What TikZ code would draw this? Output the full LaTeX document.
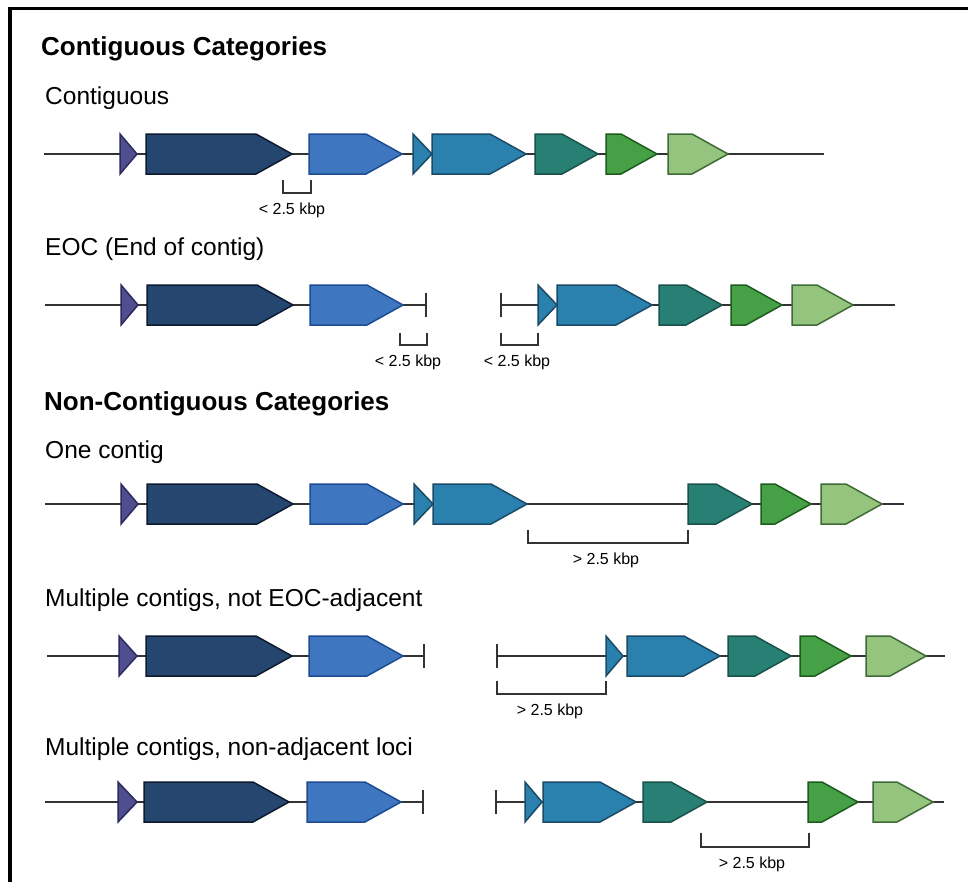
\documentclass[tikz,border=0pt]{standalone}
\usepackage{fontspec}
\setmainfont{Liberation Sans}
\usetikzlibrary{positioning, calc}

\definecolor{purpleF}{HTML}{4F4E8F}\definecolor{purpleD}{HTML}{2C2A5E}
\definecolor{navyF}{HTML}{24466F}\definecolor{navyD}{HTML}{0E1A30}
\definecolor{blueF}{HTML}{3E76C0}\definecolor{blueD}{HTML}{1E4C92}
\definecolor{steelF}{HTML}{2A81AE}\definecolor{steelD}{HTML}{1B4A66}
\definecolor{tealF}{HTML}{287F74}\definecolor{tealD}{HTML}{1A514A}
\definecolor{greenF}{HTML}{46A046}\definecolor{greenD}{HTML}{1E5C1E}
\definecolor{lightF}{HTML}{94C47E}\definecolor{lightD}{HTML}{3E6B36}

\tikzset{
  backbone/.style={draw=black!80, line width=1.8pt},
  gene/.style={line width=1.5pt, line join=miter},
  gpurple/.style={fill=purpleF, draw=purpleD},
  gnavy/.style={fill=navyF, draw=navyD},
  gblue/.style={fill=blueF, draw=blueD},
  gsteel/.style={fill=steelF, draw=steelD},
  gteal/.style={fill=tealF, draw=tealD},
  ggreen/.style={fill=greenF, draw=greenD},
  glight/.style={fill=lightF, draw=lightD},
  heading/.style={anchor=base west, inner sep=0pt, font=\fontsize{26}{30}\selectfont\bfseries},
  category/.style={anchor=base west, inner sep=0pt, font=\fontsize{24.5}{28}\selectfont},
  gaplabel/.style={font=\fontsize{16}{18}\selectfont},
  bracket/.style={draw=black!80, line width=1.8pt}
}

% gene arrow: name, left x, tip x, y, colour style
\newcommand{\gene}[5]{%
  \draw[gene, #5] (#2,#4-20) -- (#3-36,#4-20) -- (#3,#4) -- (#3-36,#4+20) -- (#2,#4+20) -- cycle;
  \coordinate (#1-w) at (#2,#4);
  \coordinate (#1-e) at (#3,#4);
}
% short orf, drawn as a plain triangle
\newcommand{\orf}[5]{%
  \draw[gene, #5] (#2,#4-20) -- (#3,#4) -- (#2,#4+20) -- cycle;
  \coordinate (#1-w) at (#2,#4);
  \coordinate (#1-e) at (#3,#4);
}
% end of contig
\newcommand{\eoc}[3]{%
  \coordinate (#1) at (#2,#3);
  \draw[backbone] (#2,#3-12) -- (#2,#3+12);
}
% gap bracket under the backbone: left, right, top y, bottom y, label pos, text
\newcommand{\gap}[6]{%
  \draw[bracket] (#1,#3) |- (#2,#4) -- (#2,#3);
  \node[gaplabel] at (#5,#4+17) {#6};
}

\begin{document}
\begin{tikzpicture}[x=1pt, y=-1pt]
  \useasboundingbox (0,0) rectangle (968,881);
  \draw[line width=3.5pt] (10,890) -- (10,8.5) -- (975,8.5);

  \node[heading] (t1) at (41,55) {Contiguous Categories};

  % Contiguous
  \node[category] (l1) at (45,104) {Contiguous};
  \coordinate (r1s) at (44,154);
  \coordinate (r1e) at (824,154);
  \draw[backbone] (r1s) -- (r1e);
  \orf{a1}{120}{137}{154}{gpurple}
  \gene{b1}{146}{292}{154}{gnavy}
  \gene{c1}{309}{402}{154}{gblue}
  \orf{d1}{413}{432}{154}{gsteel}
  \gene{e1}{432}{526}{154}{gsteel}
  \gene{f1}{535}{598}{154}{gteal}
  \gene{g1}{606}{657}{154}{ggreen}
  \gene{h1}{668}{728}{154}{glight}
  \gap{283}{311}{180}{193}{292}{< 2.5 kbp}

  % EOC
  \node[category] (l2) at (45,255) {EOC (End of contig)};
  \coordinate (r2s) at (45,305);
  \eoc{r2x}{426}{305}
  \draw[backbone] (r2s) -- (r2x);
  \orf{a2}{121}{138}{305}{gpurple}
  \gene{b2}{147}{293}{305}{gnavy}
  \gene{c2}{310}{403}{305}{gblue}
  \gap{400}{427}{333}{345}{408}{< 2.5 kbp}
  \eoc{r2y}{501}{305}
  \coordinate (r2e) at (895,305);
  \draw[backbone] (r2y) -- (r2e);
  \orf{d2}{538}{557}{305}{gsteel}
  \gene{e2}{557}{652}{305}{gsteel}
  \gene{f2}{659}{722}{305}{gteal}
  \gene{g2}{731}{782}{305}{ggreen}
  \gene{h2}{792}{853}{305}{glight}
  \gap{501}{538}{333}{345}{517}{< 2.5 kbp}

  \node[heading] (t2) at (44,410) {Non-Contiguous Categories};

  % One contig
  \node[category] (l3) at (45,458) {One contig};
  \coordinate (r3s) at (45,504);
  \coordinate (r3e) at (904,504);
  \draw[backbone] (r3s) -- (r3e);
  \orf{a3}{121}{138}{504}{gpurple}
  \gene{b3}{147}{293}{504}{gnavy}
  \gene{c3}{310}{403}{504}{gblue}
  \orf{d3}{414}{433}{504}{gsteel}
  \gene{e3}{433}{527}{504}{gsteel}
  \gene{f3}{688}{752}{504}{gteal}
  \gene{g3}{761}{811}{504}{ggreen}
  \gene{h3}{821}{882}{504}{glight}
  \gap{528}{688}{530}{543}{606}{> 2.5 kbp}

  % Multiple contigs, not EOC-adjacent
  \node[category] (l4) at (45,606) {Multiple contigs, not EOC-adjacent};
  \coordinate (r4s) at (47,656);
  \eoc{r4x}{424}{656}
  \draw[backbone] (r4s) -- (r4x);
  \orf{a4}{119}{137}{656}{gpurple}
  \gene{b4}{146}{292}{656}{gnavy}
  \gene{c4}{309}{403}{656}{gblue}
  \eoc{r4y}{497}{656}
  \coordinate (r4e) at (945,656);
  \draw[backbone] (r4y) -- (r4e);
  \orf{d4}{606}{623}{656}{gsteel}
  \gene{e4}{627}{720}{656}{gsteel}
  \gene{f4}{728}{791}{656}{gteal}
  \gene{g4}{800}{851}{656}{ggreen}
  \gene{h4}{866}{926}{656}{glight}
  \gap{497}{606}{681}{694}{550}{> 2.5 kbp}

  % Multiple contigs, non-adjacent loci
  \node[category] (l5) at (45,755) {Multiple contigs, non-adjacent loci};
  \coordinate (r5s) at (45,802);
  \eoc{r5x}{423}{802}
  \draw[backbone] (r5s) -- (r5x);
  \orf{a5}{118}{137}{802}{gpurple}
  \gene{b5}{144}{289}{802}{gnavy}
  \gene{c5}{307}{401}{802}{gblue}
  \eoc{r5y}{496}{802}
  \coordinate (r5e) at (944,802);
  \draw[backbone] (r5y) -- (r5e);
  \orf{d5}{525}{542}{802}{gsteel}
  \gene{e5}{543}{636}{802}{gsteel}
  \gene{f5}{643}{707}{802}{gteal}
  \gene{g5}{808}{858}{802}{ggreen}
  \gene{h5}{873}{933}{802}{glight}
  \gap{701}{809}{833}{847}{752}{> 2.5 kbp}
\end{tikzpicture}
\end{document}
